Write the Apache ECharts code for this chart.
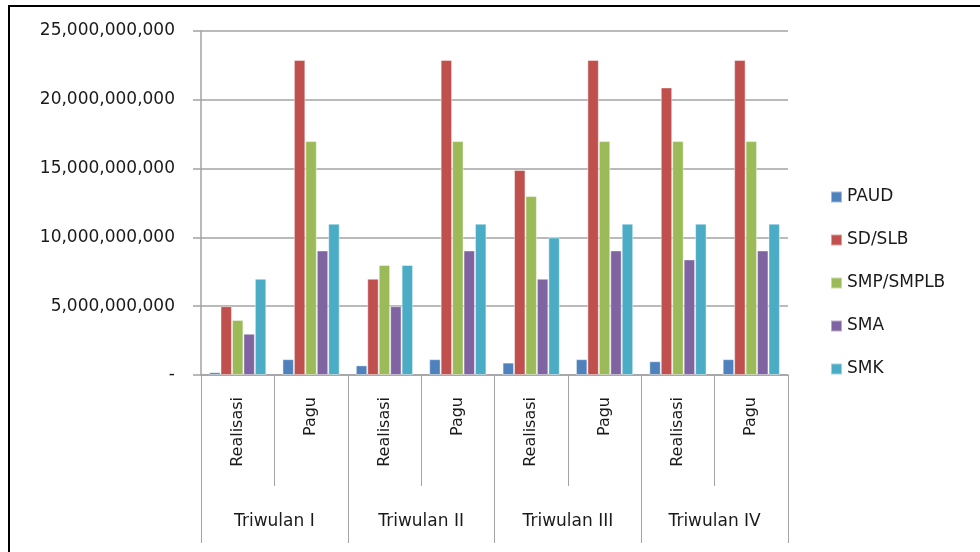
<!DOCTYPE html>
<html>
<head>
<meta charset="utf-8">
<style>html,body{margin:0;padding:0;background:#fff;}#c{width:980px;height:552px;}</style>
<script src="https://cdn.jsdelivr.net/npm/echarts@6/dist/echarts.min.js"></script>
</head>
<body>
<div id="c"></div>
<script>
const categories = ['Realisasi','Pagu','Realisasi','Pagu','Realisasi','Pagu','Realisasi','Pagu'];
const groups = ['Triwulan I','Triwulan II','Triwulan III','Triwulan IV'];
const seriesNames = ['PAUD','SD/SLB','SMP/SMPLB','SMA','SMK'];
const PAUD = [200000000,1150000000,700000000,1150000000,900000000,1150000000,1000000000,1150000000];
const SD_SLB = [5000000000,22900000000,7000000000,22900000000,14900000000,22900000000,20900000000,22900000000];
const SMP_SMPLB = [4000000000,17000000000,8000000000,17000000000,13000000000,17000000000,17000000000,17000000000];
const SMA = [3000000000,9050000000,5000000000,9050000000,7000000000,9050000000,8400000000,9050000000];
const SMK = [7000000000,11000000000,8000000000,11000000000,10000000000,11000000000,11000000000,11000000000];
const yTicks = [0,5000000000,10000000000,15000000000,20000000000,25000000000];

const seriesData = [PAUD, SD_SLB, SMP_SMPLB, SMA, SMK];
const colors = ['#4F81BD','#C0504D','#9BBB59','#8064A2','#4BACC6'];
const FONT = 'DejaVu Sans';
const gridCol = '#a3a3a3';

const chart = echarts.init(document.getElementById('c'));
chart.setOption({
  animation: false,
  color: colors,
  textStyle: {fontFamily: FONT},
  grid: {left: 201, right: 192, top: 31, bottom: 177, containLabel: false},
  graphic: [{
    type: 'rect', shape: {x: 9, y: 6, width: 1000, height: 600},
    style: {fill: 'none', stroke: '#000', lineWidth: 2}, silent: true
  }],
  legend: {
    orient: 'vertical', left: 830, top: 187, padding: 0,
    itemWidth: 11, itemHeight: 11, itemGap: 23,
    icon: 'rect',
    textStyle: {fontFamily: FONT, fontSize: 17, color: '#1a1a1a', lineHeight: 20},
    data: seriesNames
  },
  xAxis: [{
    type: 'category', data: categories, position: 'bottom', offset: 0,
    axisLine: {show: true, lineStyle: {color: gridCol, width: 1.5}},
    axisTick: {show: true, interval: 0, length: 111, lineStyle: {color: gridCol}},
    axisLabel: {interval: 0, rotate: 90, margin: 22, fontFamily: FONT, fontSize: 16, color: '#1a1a1a'}
  }, {
    type: 'category', data: groups, position: 'bottom', offset: 0,
    axisLine: {show: false},
    axisTick: {show: true, interval: 0, length: 168, lineStyle: {color: gridCol}},
    axisLabel: {interval: 0, margin: 138, fontFamily: FONT, fontSize: 17, color: '#1a1a1a'}
  }],
  yAxis: {
    type: 'value', min: 0, max: 25000000000, interval: 5000000000,
    axisLine: {show: true, lineStyle: {color: gridCol, width: 1.5}},
    axisTick: {show: true, length: 8, lineStyle: {color: gridCol, width: 1.5}},
    splitLine: {show: true, lineStyle: {color: gridCol, width: 1.5}},
    axisLabel: {
      margin: 26, fontFamily: FONT, fontSize: 17, color: '#1a1a1a',
      formatter: v => (yTicks.indexOf(v) === 0 ? '-' : v.toLocaleString('en-US'))
    }
  },
  series: seriesNames.map((n, i) => ({
    name: n, type: 'bar', xAxisIndex: 0, data: seriesData[i],
    barGap: '0%', barCategoryGap: '22%',
    itemStyle: {color: colors[i], borderColor: 'rgba(255,255,255,0.45)', borderWidth: 1}
  }))
});
</script>
</body>
</html>
